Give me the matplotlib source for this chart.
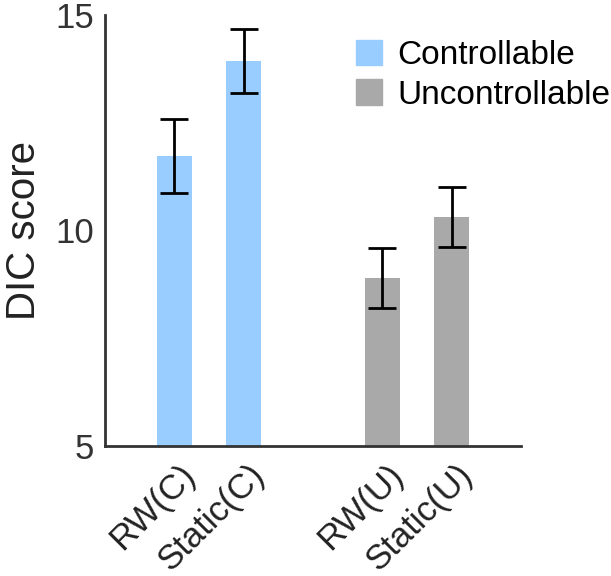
import matplotlib.pyplot as plt
from matplotlib.patches import Patch

plt.rcParams['font.family'] = ['Liberation Sans', 'DejaVu Sans']

# data
labels = ['RW(C)', 'Static(C)', 'RW(U)', 'Static(U)']
positions = [0, 1, 3, 4]
scores = [11.73, 13.93, 8.9, 10.31]
errors = [0.86, 0.75, 0.7, 0.69]
colors = ['#99ccff', '#99ccff', '#a9a9a9', '#a9a9a9']

fig = plt.figure(figsize=(6.11, 5.76), dpi=100)
ax = fig.add_axes([0.172, 0.226, 0.681, 0.748])

ax.bar(positions, [s - 5 for s in scores], bottom=5, width=0.5, color=colors)
ax.errorbar(positions, scores, yerr=errors, fmt='none', ecolor='black',
            elinewidth=2, capsize=10, capthick=2)

ax.set_xlim(-1, 5)
ax.set_ylim(5, 15)
ax.set_yticks([5, 10, 15])
ax.set_xticks(positions)
ax.set_xticklabels([])

# rotated category labels, shifted right/down of each tick
for pos, lab in zip(positions, labels):
    ax.annotate(lab, xy=(pos, 0), xycoords=('data', 'axes fraction'),
                xytext=(11, -17), textcoords='offset points',
                rotation=45, ha='right', va='center', rotation_mode='anchor',
                fontsize=25, color='#222222', annotation_clip=False)

ax.tick_params(axis='y', length=0, labelsize=25, colors='#333333', pad=8)
ax.tick_params(axis='x', length=0)
ax.set_ylabel('DIC score', fontsize=29, color='#222222', labelpad=9)

for side in ['top', 'right']:
    ax.spines[side].set_visible(False)
for side in ['left', 'bottom']:
    ax.spines[side].set_color('#333333')
    ax.spines[side].set_linewidth(2)

handles = [Patch(color='#99ccff', label='Controllable'),
           Patch(color='#a9a9a9', label='Uncontrollable')]
ax.legend(handles=handles, loc='upper left', bbox_to_anchor=(356 / 611, 1 - 40 / 576),
          bbox_transform=fig.transFigure, frameon=False, fontsize=24,
          borderpad=0, borderaxespad=0, handlelength=0.78, handleheight=0.78,
          handletextpad=0.45, labelspacing=0.25)

fig.savefig('out.png', dpi=100)
